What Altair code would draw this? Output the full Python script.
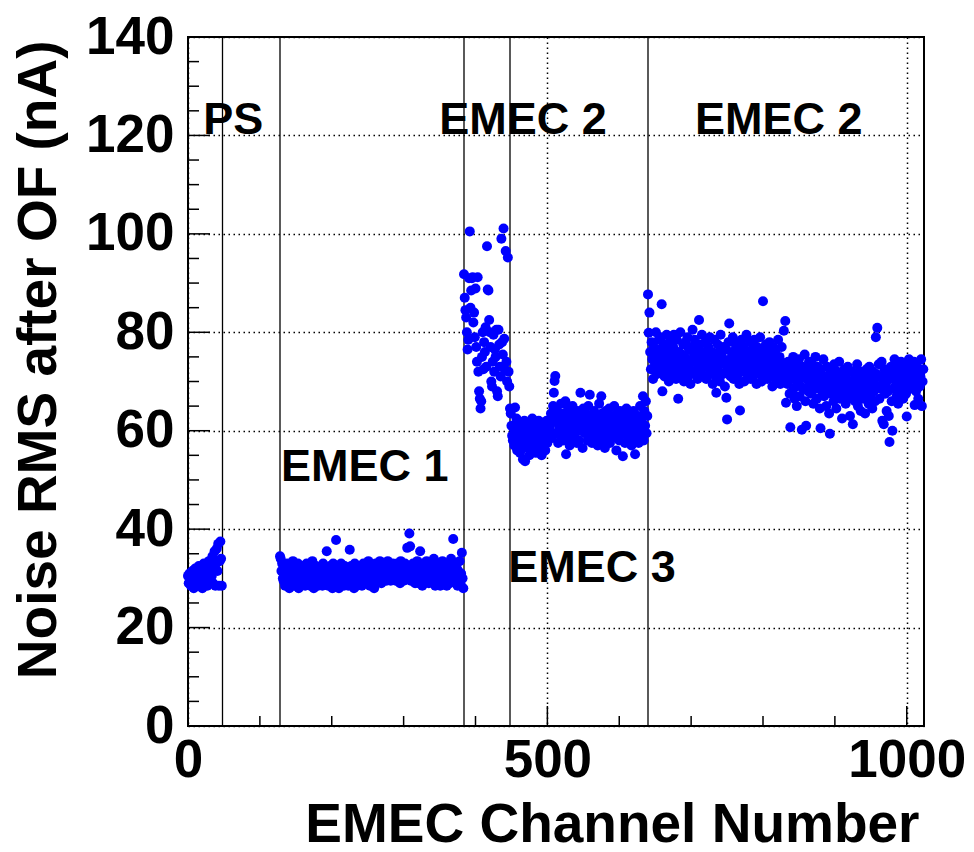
import altair as alt
import pandas as pd

# ---------------- data ----------------
# channel segments: start channel and noise RMS after OF (nA) per channel
ps_start = 0
ps_vals = [
    30.5, 29.0, 31.0, 30.0, 28.5, 30.5, 31.5, 29.5, 28.0, 30.0, 32.0, 29.0, 31.0, 30.5, 28.5, 32.5,
    31.0, 29.5, 32.0, 30.0, 28.0, 31.5, 33.0, 30.5, 29.0, 32.5, 31.0, 28.5, 30.0, 33.5, 31.5, 29.5,
    32.0, 30.5, 34.5, 29.0, 31.5, 35.5, 28.5, 33.0, 36.0, 31.5, 37.0, 28.5, 33.5, 37.5, 34.0, 28.5,
]

emec1_start = 128
emec1_vals = [
    34.5, 34.0, 31.5, 33.0, 30.0, 29.5, 32.0, 28.5, 31.0, 30.5, 33.0, 29.0, 31.5, 28.0, 30.0, 32.5,
    30.5, 29.0, 33.5, 31.0, 28.5, 32.0, 30.0, 29.5, 31.5, 33.0, 28.0, 30.5, 32.0, 29.0, 31.0, 30.0,
    32.5, 29.5, 31.0, 28.5, 30.5, 33.0, 29.0, 31.5, 30.0, 32.0, 28.5, 31.0, 29.5, 33.5, 30.0, 28.0,
    31.5, 30.0, 32.5, 29.0, 31.0, 28.5, 30.5, 32.0, 29.5, 31.5, 30.0, 28.5, 33.0, 31.0, 29.0, 30.5,
    32.0, 35.5, 30.0, 28.5, 31.5, 29.5, 32.5, 30.0, 31.0, 28.0, 33.0, 30.5, 29.0, 31.5, 37.8, 30.0,
    29.5, 32.0, 28.0, 31.0, 30.5, 33.0, 29.0, 31.5, 30.0, 28.5, 32.5, 31.0, 29.5, 30.5, 32.0, 28.5,
    31.0, 35.8, 30.0, 32.5, 29.0, 31.5, 30.5, 28.0, 33.0, 30.0, 31.5, 28.5, 32.0, 30.5, 29.5, 31.0,
    32.5, 30.0, 28.5, 31.5, 33.0, 29.5, 31.0, 30.0, 32.0, 29.0, 31.5, 33.5, 30.5, 28.5, 32.0, 31.0,
    29.5, 32.5, 30.5, 28.0, 31.0, 33.0, 30.0, 31.5, 29.5, 32.0, 30.5, 33.5, 31.0, 29.0, 32.5, 30.0,
    31.5, 33.0, 30.5, 32.0, 29.5, 31.0, 33.5, 30.0, 32.5, 31.0, 29.5, 32.0, 30.5, 33.0, 31.5, 30.0,
    32.5, 29.5, 31.0, 33.0, 30.5, 32.0, 31.5, 29.0, 33.5, 31.0, 30.0, 32.5, 29.5, 31.5, 33.0, 30.5,
    32.0, 36.2, 30.5, 31.5, 39.1, 36.5, 29.5, 32.5, 31.0, 33.0, 30.0, 31.5, 29.0, 32.0, 30.5, 33.5,
    31.0, 29.0, 32.5, 35.5, 30.5, 31.5, 28.5, 33.0, 30.0, 32.0, 31.0, 29.5, 33.5, 30.5, 32.0, 29.0,
    31.5, 33.0, 30.0, 32.5, 29.5, 31.0, 34.0, 30.5, 28.5, 32.0, 31.0, 30.0, 33.0, 29.0, 31.5, 28.5,
    32.0, 30.5, 33.5, 31.0, 29.5, 32.5, 30.0, 31.5, 28.5, 33.0, 30.5, 32.0, 29.0, 31.0, 34.0, 30.5,
    32.5, 38.0, 31.0, 29.5, 33.0, 30.0, 32.0, 28.5, 31.5, 30.5, 33.5, 29.0, 31.0, 35.2, 30.0, 28.0,
]

emec2a_start = 384
emec2a_vals = [
    91.8, 87.0, 84.5, 83.0, 80.0, 76.5, 78.5, 91.0, 100.5, 85.0, 88.5, 91.0, 91.2, 82.0, 84.0, 79.0,
    88.9, 77.0, 74.0, 91.2, 72.0, 68.0, 66.5, 64.5, 66.0, 75.0, 80.0, 72.5, 78.0, 76.0, 81.0, 73.0,
    97.5, 88.7, 88.5, 82.5, 80.0, 77.0, 70.0, 69.0, 74.0, 79.5, 72.0, 76.5, 75.0, 80.5, 68.0, 67.0,
    80.5, 77.5, 73.0, 71.0, 99.0, 78.0, 75.5, 101.1, 78.7, 72.5, 96.5, 74.0, 70.0, 95.2, 72.0, 69.0,
]

emec3_start = 448
emec3_vals = [
    64.5, 63.5, 61.0, 59.0, 58.0, 60.5, 57.0, 64.7,
    59.0, 62.5, 56.0, 60.5, 58.0, 61.0, 55.5, 59.5, 57.0, 60.0, 54.2, 58.5, 62.0, 53.8, 57.5, 60.5,
    56.5, 59.0, 61.5, 55.0, 58.0, 60.0, 57.0, 62.5, 56.0, 59.5, 58.5, 61.0, 55.5, 60.0, 57.5, 59.0,
    62.0, 56.5, 60.5, 58.0, 55.0, 61.5, 57.0, 59.5, 60.5, 56.0, 58.5, 62.0, 57.5, 60.0, 59.0, 61.0,
    60.0, 63.5, 58.5, 62.0, 65.0, 67.7, 70.1, 71.1, 59.5, 62.5, 64.0, 57.5, 61.0, 63.0, 59.0, 65.5,
    62.0, 60.5, 58.0, 63.5, 61.0, 66.0, 55.2, 62.5, 59.5, 64.5, 60.0, 57.0, 63.0, 61.5, 58.5, 65.0,
    61.0, 63.5, 59.0, 62.5, 60.5, 57.5, 64.0, 61.5, 58.0, 63.0, 67.7, 60.0, 62.0, 56.5, 64.5, 61.0,
    59.5, 63.5, 60.5, 62.0, 58.0, 65.0, 61.5, 67.3, 59.0, 63.0, 57.5, 62.5, 60.0, 64.0, 58.5, 61.5,
    63.0, 60.0, 57.0, 62.0, 65.5, 59.5, 61.0, 67.0, 63.5, 58.0, 62.5, 60.5, 56.5, 64.0, 61.0, 59.0,
    62.5, 60.0, 64.5, 57.5, 61.5, 63.0, 58.5, 62.0, 60.0, 65.0, 59.0, 61.5, 56.0, 63.5, 60.5, 62.0,
    58.0, 64.0, 61.0, 59.5, 62.5, 54.8, 60.5, 63.0, 57.5, 61.5, 64.5, 59.0, 62.0, 60.0, 58.0, 63.5,
    61.0, 57.0, 62.5, 59.5, 64.0, 60.5, 55.2, 62.0, 58.5, 61.5, 63.0, 57.5, 60.0, 65.0, 59.0, 62.5,
    60.5, 67.0, 58.0, 64.0, 61.0, 66.0, 59.5, 63.0,
]

emec2b_start = 640
emec2b_vals = [
    87.7, 79.9, 84.0, 76.0, 72.5, 78.0, 74.5, 70.5, 77.0, 73.0, 75.5, 80.0, 71.5, 76.5, 74.0, 78.5,
    72.0, 75.0, 79.0, 85.7, 68.0, 73.5, 77.5, 71.0, 76.0, 74.0, 79.5, 72.5, 75.5, 70.0, 78.0, 73.5,
    76.5, 74.5, 71.5, 77.0, 79.5, 73.0, 75.0, 70.5, 78.5, 72.0, 66.5, 76.0, 74.0, 80.0, 71.5, 75.5,
    73.0, 77.5, 70.0, 75.0, 78.0, 72.5, 74.5, 79.0, 71.0, 76.5, 73.5, 69.5, 77.0, 74.0, 80.5, 72.0,
    75.5, 78.5, 71.5, 74.0, 76.5, 70.5, 73.0, 82.5, 77.5, 72.0, 75.0, 79.5, 71.0, 74.5, 76.0, 73.0,
    78.0, 70.5, 75.5, 73.5, 77.0, 71.5, 79.0, 74.0, 72.5, 76.0, 69.5, 75.0, 78.5, 73.0, 71.0, 67.7,
    74.5, 77.5, 72.0, 76.0, 70.0, 79.5, 73.5, 75.0, 71.5, 77.0, 74.0, 69.0, 76.5, 66.7, 62.3, 72.5,
    78.0, 81.8, 74.5, 71.0, 76.0, 73.0, 79.0, 70.5, 75.5, 72.5, 77.5, 74.0, 71.0, 76.5, 73.5, 69.5,
    64.1, 75.0, 78.5, 72.0, 74.5, 77.0, 70.0, 76.0, 73.0, 79.5, 71.5, 74.0, 75.5, 72.5, 78.0, 70.5,
    73.5, 76.5, 71.0, 75.0, 78.5, 72.0, 74.0, 69.5, 77.0, 73.0, 75.5, 71.5, 79.0, 74.5, 70.0, 76.0,
    86.3, 72.5, 75.0, 71.0, 77.5, 73.5, 70.5, 76.0, 74.0, 78.0, 71.5, 73.0, 75.5, 69.0, 77.0, 72.0,
    74.5, 70.5, 76.5, 73.0, 71.0, 78.5, 72.5, 75.0, 69.5, 74.0, 77.0, 71.5, 73.5, 80.3, 70.0, 82.3,
    65.7, 72.0, 69.5, 74.0, 71.0, 67.5, 60.7, 73.0, 70.5, 68.0, 75.0, 71.5, 66.5, 73.5, 69.0, 65.0,
    72.5, 70.0, 74.5, 67.0, 71.5, 69.0, 60.2, 73.0, 68.5, 71.0, 75.5, 66.0, 61.0, 70.5, 72.5, 68.0,
    74.0, 69.5, 71.0, 67.5, 73.5, 70.0, 65.5, 72.0, 68.5, 75.0, 70.5, 66.5, 73.0, 69.0, 71.5, 64.5,
    60.5, 72.5, 68.0, 70.5, 74.5, 67.0, 71.0, 69.5, 65.0, 73.0, 68.5, 70.0, 63.5, 59.4, 72.0, 67.5,
    69.0, 71.5, 66.0, 73.5, 68.0, 70.5, 64.5, 72.0, 67.5, 69.5, 74.0, 66.5, 71.0, 68.5, 62.5, 70.0,
    67.0, 72.5, 69.0, 65.5, 71.5, 68.0, 73.0, 66.5, 70.0, 63.0, 69.5, 67.5, 72.0, 61.3, 68.5, 70.5,
    66.0, 71.0, 68.5, 73.5, 65.0, 69.5, 67.0, 72.0, 64.0, 70.5, 68.0, 66.5, 71.5, 69.0, 63.5, 67.5,
    72.5, 68.5, 70.0, 65.5, 73.0, 67.0, 71.0, 69.5, 64.5, 72.0, 68.0, 70.5, 66.0, 79.0, 71.5, 80.9,
    69.0, 73.5, 66.5, 71.0, 68.5, 74.0, 62.0, 70.0, 61.3, 72.5, 67.5, 69.5, 64.0, 71.5, 68.0, 63.0,
    57.7, 70.5, 73.0, 66.0, 60.0, 71.5, 68.5, 74.5, 69.0, 72.0, 67.0, 70.5, 65.5, 73.5, 71.0, 68.0,
    74.0, 70.0, 72.5, 66.5, 71.5, 69.0, 73.0, 67.5, 62.9, 72.0, 70.5, 74.5, 68.5, 71.0, 73.5, 69.5,
    72.0, 70.0, 74.0, 65.2, 71.5, 68.0, 73.0, 70.5, 66.5, 72.5, 69.0, 71.0, 74.5, 65.0, 70.0, 72.5,
]

# region boundaries (channel numbers)
boundaries = [48, 128, 384, 448, 640]

# region labels
label_text = ["PS", "EMEC 2", "EMEC 2", "EMEC 1", "EMEC 3"]
label_ch = [63, 466, 822, 246, 562]
label_rms = [120.3, 120.3, 120.3, 49.7, 29.3]

# axis ticks
x_major = [0, 500, 1000]
x_minor = [100, 200, 300, 400, 600, 700, 800, 900]
y_major = [0, 20, 40, 60, 80, 100, 120, 140]
y_minor = [5, 10, 15, 25, 30, 35, 45, 50, 55, 65, 70, 75, 85, 90, 95,
           105, 110, 115, 125, 130, 135]

# ---------------- build table ----------------
segments = [(ps_start, ps_vals), (emec1_start, emec1_vals), (emec2a_start, emec2a_vals),
            (emec3_start, emec3_vals), (emec2b_start, emec2b_vals)]
rows = []
for start, vals in segments:
    for i, v in enumerate(vals):
        rows.append({"ch": start + i, "rms": v})
df = pd.DataFrame(rows)

W, H = 736, 689
FONT = "Liberation Sans"

xs = alt.Scale(domain=[0, 1024], nice=False, zero=False)
ys = alt.Scale(domain=[0, 140], nice=False)

x_axis = alt.Axis(
    values=x_major, title="EMEC Channel Number", grid=True, gridColor="black",
    gridDash=[1.5, 3.5], gridWidth=1.5, gridOpacity=1, ticks=False, tickSize=0, domain=False,
    labelFont=FONT, labelFontSize=53, labelFontWeight="bold", labelColor="black",
    labelPadding=8, labelFlush=False, labelOverlap=False, format="d",
    titleFont=FONT, titleFontSize=55, titleFontWeight="bold", titleColor="black",
    titleX=731, titleY=115, titleAlign="right", titleBaseline="alphabetic",
)
y_axis = alt.Axis(
    values=y_major, title="Noise RMS after OF (nA)", grid=True, gridColor="black",
    gridDash=[1.5, 3.5], gridWidth=1.5, gridOpacity=1, ticks=False, tickSize=0, domain=False,
    labelFont=FONT, labelFontSize=53, labelFontWeight="bold", labelColor="black",
    labelPadding=14, labelFlush=False, labelOverlap=False, format="d",
    titleFont=FONT, titleFontSize=55, titleFontWeight="bold", titleColor="black",
    titleX=-133, titleY=3, titleAngle=270, titleAlign="right", titleBaseline="alphabetic",
)

bounds = alt.Chart(pd.DataFrame({"b": boundaries})).mark_rule(
    color="black", strokeWidth=1.3).encode(
    x=alt.X("b:Q", scale=xs, axis=x_axis), y=alt.value(0), y2=alt.value(H))

ymaj = alt.Chart(pd.DataFrame({"v": y_major})).mark_rule(color="black", strokeWidth=1.5).encode(
    y=alt.Y("v:Q", scale=ys, axis=y_axis), x=alt.value(0), x2=alt.value(22))
ymin = alt.Chart(pd.DataFrame({"v": y_minor})).mark_rule(color="black", strokeWidth=1.5).encode(
    y=alt.Y("v:Q", scale=ys, axis=y_axis), x=alt.value(0), x2=alt.value(11))
xmaj = alt.Chart(pd.DataFrame({"v": x_major})).mark_rule(color="black", strokeWidth=1.5).encode(
    x=alt.X("v:Q", scale=xs, axis=x_axis), y=alt.value(H), y2=alt.value(H - 20))
xmin = alt.Chart(pd.DataFrame({"v": x_minor})).mark_rule(color="black", strokeWidth=1.5).encode(
    x=alt.X("v:Q", scale=xs, axis=x_axis), y=alt.value(H), y2=alt.value(H - 10))

points = alt.Chart(df).mark_circle(size=100, color="#0000ff", opacity=1).encode(
    x=alt.X("ch:Q", scale=xs, axis=x_axis),
    y=alt.Y("rms:Q", scale=ys, axis=y_axis),
)

labels = alt.Chart(pd.DataFrame({"t": label_text, "c": label_ch, "r": label_rms})).mark_text(
    font=FONT, fontSize=45, fontWeight="bold", color="black", align="center",
    baseline="alphabetic").encode(
    x=alt.X("c:Q", scale=xs, axis=x_axis), y=alt.Y("r:Q", scale=ys, axis=y_axis), text="t:N")

chart = alt.layer(bounds, ymaj, ymin, xmaj, xmin, points, labels).properties(
    width=W, height=H,
    autosize=alt.AutoSizeParams(type="none"),
    padding={"left": 180, "top": 29, "right": 41, "bottom": 120},
    background="white",
).configure_view(stroke="black", strokeWidth=2)

chart.save("out.html", embed_options={"renderer": "svg", "actions": False})
